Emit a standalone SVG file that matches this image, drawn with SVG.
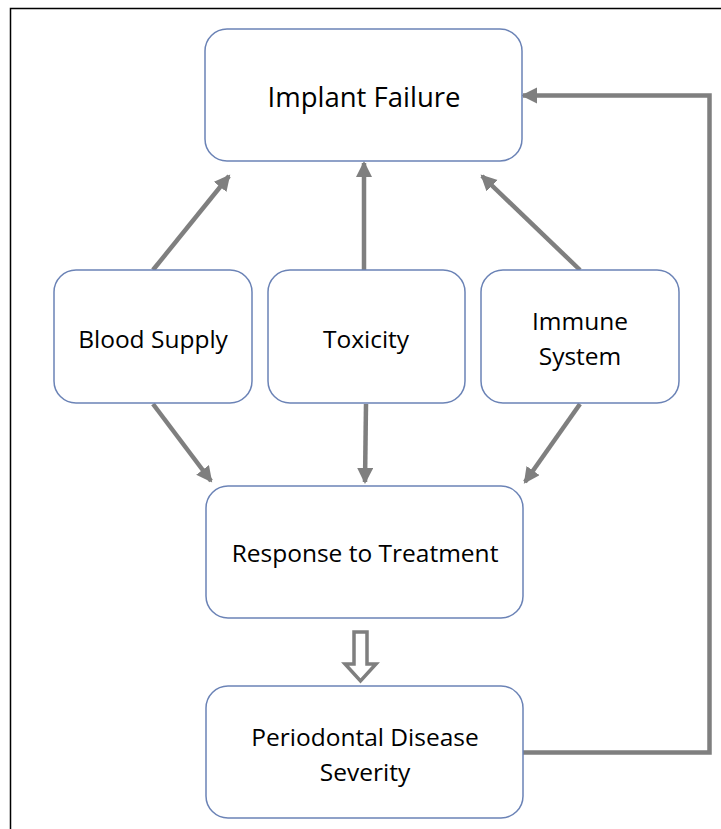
<svg xmlns="http://www.w3.org/2000/svg" width="721" height="829" viewBox="0 0 721 829">
<defs>
<style>
.box{fill:#fff;stroke:#6b83b6;stroke-width:1.5}
.lbl{font-family:"Open Sans","Liberation Sans",sans-serif;font-size:24.5px;fill:#000;text-anchor:middle}
.big{font-size:27.5px}
.con{stroke:#7f7f7f;stroke-width:4.5;fill:none}
</style>
<marker id="ah" markerUnits="userSpaceOnUse" markerWidth="18" markerHeight="18" refX="14" refY="8" orient="auto">
<path d="M0,0 L16,8 L0,16 z" fill="#7f7f7f"/>
</marker>
</defs>
<rect width="721" height="829" fill="#fff"/>
<path d="M10.5,829 V8.5 H721" fill="none" stroke="#000" stroke-width="1.5"/>
<g id="connectors">
<path class="con" d="M153,270 L229,176" marker-end="url(#ah)"/>
<path class="con" d="M364,270 L364,163" marker-end="url(#ah)"/>
<path class="con" d="M580,270 L482,176" marker-end="url(#ah)"/>
<path class="con" d="M153,404 L211,481" marker-end="url(#ah)"/>
<path class="con" d="M366,404 L365,482" marker-end="url(#ah)"/>
<path class="con" d="M580,404 L525,482" marker-end="url(#ah)"/>
<path class="con" d="M523,752.5 H709.5 V95.5 H523" marker-end="url(#ah)"/>
<path d="M354,632 H367 V664 H376 L360.5,681 L345,664 H354 Z" fill="#fff" stroke="#7f7f7f" stroke-width="3.5" stroke-linejoin="miter"/>
</g>
<g id="implant-failure">
<rect class="box" x="205" y="29" width="317" height="132" rx="22"/>
<text class="lbl big" x="364" y="107">Implant Failure</text>
</g>
<g id="blood-supply">
<rect class="box" x="54" y="270" width="198" height="133" rx="22"/>
<text class="lbl" x="153" y="348">Blood Supply</text>
</g>
<g id="toxicity">
<rect class="box" x="268" y="270" width="197" height="133" rx="22"/>
<text class="lbl" x="366" y="348">Toxicity</text>
</g>
<g id="immune-system">
<rect class="box" x="481" y="270" width="198" height="133" rx="22"/>
<text class="lbl" x="580" y="330">Immune</text>
<text class="lbl" x="580" y="365">System</text>
</g>
<g id="response-to-treatment">
<rect class="box" x="206" y="486" width="317" height="132" rx="22"/>
<text class="lbl" x="365" y="562">Response to Treatment</text>
</g>
<g id="periodontal-disease-severity">
<rect class="box" x="206" y="686" width="317" height="132" rx="22"/>
<text class="lbl" x="365" y="746">Periodontal Disease</text>
<text class="lbl" x="365" y="781">Severity</text>
</g>
</svg>
